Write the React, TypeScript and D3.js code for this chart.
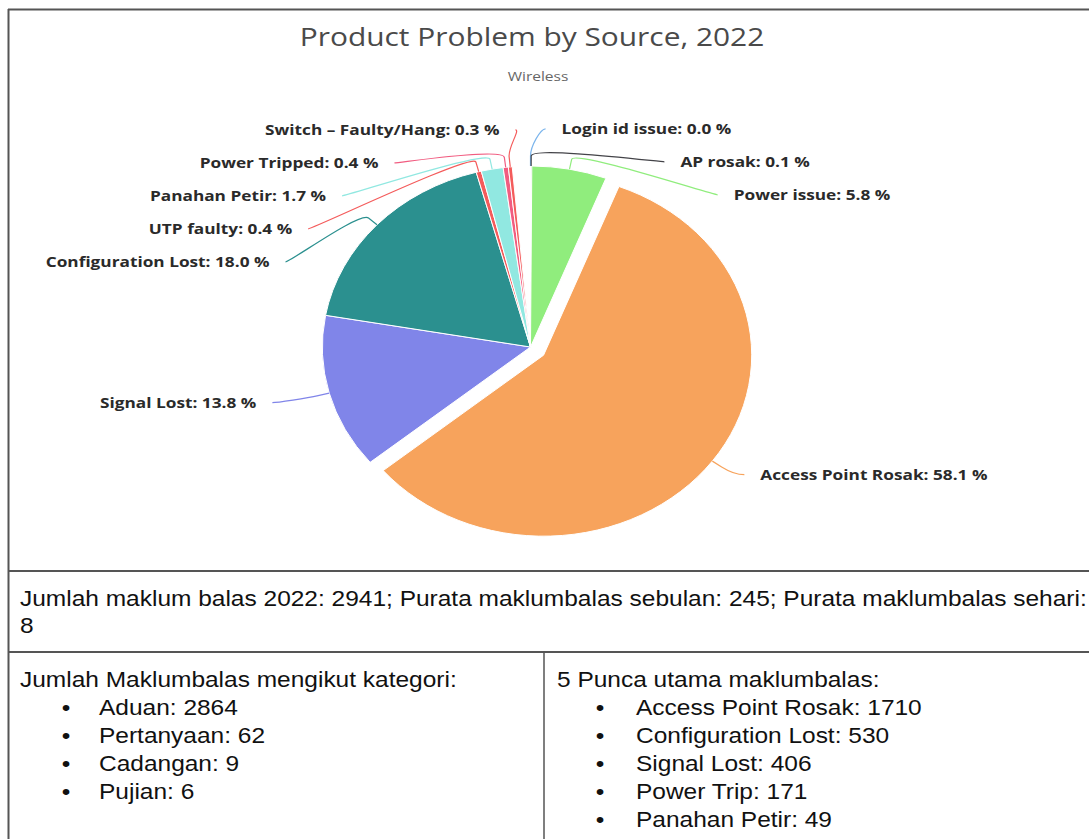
import React from 'react';
import * as d3 from 'd3';

// ---------- data ----------
const sliceNames = [
  'Login id issue',
  'AP rosak',
  'Power issue',
  'Access Point Rosak',
  'Signal Lost',
  'Configuration Lost',
  'UTP faulty',
  'Panahan Petir',
  'Power Tripped',
  'Switch – Faulty/Hang',
];
const slicePercents = [0.0, 0.1, 5.8, 58.1, 13.8, 18.0, 0.4, 1.7, 0.4, 0.3];
const sliceColors = ['#7cb5ec', '#434348', '#90ed7d', '#f7a35c', '#8085e9', '#2b908f', '#f45b5b', '#91e8e1', '#f15c80', '#f45b5b'];
const slicedNames = ['Access Point Rosak'];

const chartTitle = 'Product Problem by Source, 2022';
const chartSubtitle = 'Wireless';

const summaryLines = [
  'Jumlah maklum balas 2022: 2941; Purata maklumbalas sebulan: 245; Purata maklumbalas sehari:',
  '8',
];
const categoryHeading = 'Jumlah Maklumbalas mengikut kategori:';
const categoryNames = ['Aduan', 'Pertanyaan', 'Cadangan', 'Pujian'];
const categoryCounts = [2864, 62, 9, 6];
const topHeading = '5 Punca utama maklumbalas:';
const topNames = ['Access Point Rosak', 'Configuration Lost', 'Signal Lost', 'Power Trip', 'Panahan Petir'];
const topCounts = [1710, 530, 406, 171, 49];

// ---------- layout ----------
const W = 1089;
const H = 839;
const SX = 1.15; // horizontal stretch of the captured picture
const CX = 530.5;
const CY = 347;
const R = 181;
const SLICE_OFFSET = 14;
const LABEL_A = 246.5;
const LABEL_B = 218.2;
const LABEL_GAP = 33;
const BREAK_EXTRA = 10;
const CONNECTOR_GAP = 16;
const TABLE_FONT = 21.3;

const STR = ({ x, y, children, ...rest }: any) => (
  <g transform={`translate(${x},${y}) scale(${SX},1)`}>
    <text x={0} y={0} {...rest}>
      {children}
    </text>
  </g>
);

export default function App() {
  const pie = d3
    .pie<number>()
    .sort(null)
    .value((d) => d)
    .startAngle(0)
    .endAngle((2 * Math.PI * d3.sum(slicePercents)) / 100);
  const arcs = pie(slicePercents);
  const arcGen = d3.arc<d3.PieArcDatum<number>>().innerRadius(0).outerRadius(R);

  const items = arcs.map((a, i) => {
    const mid = (a.startAngle + a.endAngle) / 2;
    const sliced = slicedNames.includes(sliceNames[i]);
    const off = sliced ? SLICE_OFFSET : 0;
    const ox = Math.sin(mid) * off;
    const oy = -Math.cos(mid) * off;
    const pt = (r: number) => [CX + SX * (ox + r * Math.sin(mid)), CY + oy - r * Math.cos(mid)];
    return {
      i,
      a,
      mid,
      ox,
      oy,
      right: mid < Math.PI,
      natY: CY - Math.cos(mid) * LABEL_B,
      touch: pt(R),
      brk: pt(R + BREAK_EXTRA),
      y: 0,
    };
  });

  // distribute labels on each side
  [true, false].forEach((side) => {
    const group = items.filter((d) => d.right === side).sort((p, q) => p.natY - q.natY);
    let prev = -Infinity;
    group.forEach((d) => {
      d.y = Math.max(d.natY, prev + LABEL_GAP);
      prev = d.y;
    });
  });

  const labelX = (d: any) => {
    const t = (d.y - CY) / LABEL_B;
    const f = Math.sqrt(Math.max(1 - t * t, 0.012));
    return CX + (d.right ? 1 : -1) * SX * LABEL_A * f;
  };

  const lineColor = '#555';
  const tableFont = "'Liberation Sans', Arial, sans-serif";

  return (
    <svg
      width={W}
      height={H}
      viewBox={`0 0 ${W} ${H}`}
      style={{ position: 'absolute', left: 0, top: 0, background: '#fff' }}
    >
      <rect x={0} y={0} width={W} height={H} fill="#fff" />

      {/* title */}
      <STR x={532} y={46} textAnchor="middle" fontFamily="'Open Sans', sans-serif" fontSize={26} fill="#4a4a4a">
        {chartTitle}
      </STR>
      <STR x={538} y={81} textAnchor="middle" fontFamily="'Open Sans', sans-serif" fontSize={13.5} fill="#666">
        {chartSubtitle}
      </STR>

      {/* pie */}
      <g transform={`translate(${CX},${CY}) scale(${SX},1)`}>
        {items.map((d) => (
          <path
            key={d.i}
            d={arcGen(d.a) || ''}
            transform={`translate(${d.ox},${d.oy})`}
            fill={sliceColors[d.i]}
            stroke="#fff"
            strokeWidth={1}
            vectorEffect="non-scaling-stroke"
          />
        ))}
      </g>

      {/* connectors and labels */}
      {items.map((d) => {
        const ex = labelX(d);
        const sx0 = ex + (d.right ? -CONNECTOR_GAP : CONNECTOR_GAP);
        const c1x = sx0 + (d.right ? -5 : 5);
        const c2x = 2 * d.brk[0] - d.touch[0];
        const c2y = 2 * d.brk[1] - d.touch[1];
        const path = `M${sx0},${d.y} C${c1x},${d.y} ${c2x},${c2y} ${d.brk[0]},${d.brk[1]} L${d.touch[0]},${d.touch[1]}`;
        return (
          <g key={'l' + d.i}>
            <path d={path} fill="none" stroke={sliceColors[d.i]} strokeWidth={1.2} />
            <STR
              x={ex}
              y={d.y}
              dy="0.35em"
              textAnchor={d.right ? 'start' : 'end'}
              fontFamily="'Open Sans', sans-serif"
              fontWeight={700}
              fontSize={15}
              fill="#2a2a2a"
            >
              {`${sliceNames[d.i]}: ${slicePercents[d.i].toFixed(1)} %`}
            </STR>
          </g>
        );
      })}

      {/* table borders */}
      <line x1={8.5} y1={9} x2={8.5} y2={H} stroke={lineColor} strokeWidth={2} />
      <line x1={8} y1={9.5} x2={W} y2={9.5} stroke={lineColor} strokeWidth={2} />
      <line x1={8} y1={571} x2={W} y2={571} stroke={lineColor} strokeWidth={2} />
      <line x1={8} y1={652} x2={W} y2={652} stroke={lineColor} strokeWidth={2} />
      <line x1={544} y1={652} x2={544} y2={H} stroke={lineColor} strokeWidth={1.5} />

      {/* summary */}
      {summaryLines.map((s, k) => (
        <STR key={'s' + k} x={20} y={606 + k * 27} fontFamily={tableFont} fontSize={TABLE_FONT} fill="#111">
          {s}
        </STR>
      ))}

      <STR x={20} y={687} fontFamily={tableFont} fontSize={TABLE_FONT} fill="#111">
        {categoryHeading}
      </STR>
      {categoryNames.map((n, k) => (
        <g key={'c' + k}>
          <STR x={66} y={715 + k * 28} textAnchor="middle" fontFamily={tableFont} fontSize={TABLE_FONT} fill="#111">
            •
          </STR>
          <STR x={99} y={715 + k * 28} fontFamily={tableFont} fontSize={TABLE_FONT} fill="#111">
            {`${n}: ${categoryCounts[k]}`}
          </STR>
        </g>
      ))}

      <STR x={557} y={687} fontFamily={tableFont} fontSize={TABLE_FONT} fill="#111">
        {topHeading}
      </STR>
      {topNames.map((n, k) => (
        <g key={'t' + k}>
          <STR x={600} y={715 + k * 28} textAnchor="middle" fontFamily={tableFont} fontSize={TABLE_FONT} fill="#111">
            •
          </STR>
          <STR x={636} y={715 + k * 28} fontFamily={tableFont} fontSize={TABLE_FONT} fill="#111">
            {`${n}: ${topCounts[k]}`}
          </STR>
        </g>
      ))}
    </svg>
  );
}
